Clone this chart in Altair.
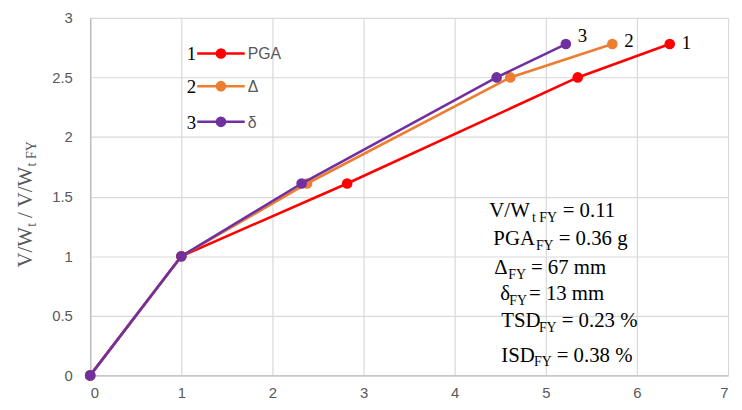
import altair as alt
import pandas as pd

# ---- data ----
series_ids = ["1", "2", "3"]
series_names = ["PGA", "Δ", "δ"]
series_colors = ["#FF0000", "#ED7D31", "#7030A0"]
y_vals = [0, 1, 1.61, 2.5, 2.78]
x_pga = [0, 1, 2.82, 5.35, 6.36]
x_delta = [0, 1, 2.38, 4.61, 5.73]
x_small = [0, 1, 2.32, 4.46, 5.22]
x_series = [x_pga, x_delta, x_small]
x_ticks = [0, 1, 2, 3, 4, 5, 6, 7]
y_ticks = [0, 0.5, 1, 1.5, 2, 2.5, 3]

W, H = 644, 361
SERIF = "Liberation Serif"
SANS = "Liberation Sans"
GRAY = "#595959"

xs = alt.Scale(domain=[0, 7], nice=False)
ys = alt.Scale(domain=[0, 3], nice=False)

layers = []
label_dy = [-1, -3, -8]
for i, sid in enumerate(series_ids):
    df = pd.DataFrame({"x": x_series[i], "y": y_vals, "s": sid, "o": range(len(y_vals))})
    base = alt.Chart(df)
    enc = dict(
        x=alt.X("x:Q", scale=xs, axis=alt.Axis(values=x_ticks, title=None, grid=True, format="d",
                                                 labelPadding=10, tickSize=0, ticks=False,
                                                 labelFont=SANS, labelFontSize=15, labelColor=GRAY)),
        y=alt.Y("y:Q", scale=ys, axis=alt.Axis(values=y_ticks, title=None, grid=True, format="~g",
                                                 labelPadding=18, tickSize=0, ticks=False,
                                                 labelFont=SANS, labelFontSize=15, labelColor=GRAY)),
    )
    line = base.mark_line(color=series_colors[i], strokeWidth=2.6).encode(order="o:Q", **enc)
    pts = base.mark_circle(color=series_colors[i], size=115, opacity=1).encode(**enc)
    end = base.transform_filter(alt.datum.o == len(y_vals) - 1).mark_text(
        font=SERIF, fontSize=19, color="black", align="left", baseline="middle",
        dx=12, dy=label_dy[i]).encode(x="x:Q", y="y:Q", text="s:N")
    layers += [line, pts, end]

# ---- custom legend (top-left inside plot) ----
leg = pd.DataFrame({"sid": series_ids, "name": series_names, "col": series_colors,
                    "ypx": [36, 69, 105]})
legb = alt.Chart(leg)
leg_line = legb.mark_rule(strokeWidth=2.6).encode(
    x=alt.value(108), x2=alt.value(156), y=alt.Y("ypx:Q", scale=None),
    color=alt.Color("col:N", scale=None))
leg_dot = legb.mark_circle(size=115, opacity=1).encode(
    x=alt.value(132), y=alt.Y("ypx:Q", scale=None), color=alt.Color("col:N", scale=None))
leg_num = legb.mark_text(font=SERIF, fontSize=19, color="black", align="right",
                         baseline="middle", dy=1).encode(
    x=alt.value(107), y=alt.Y("ypx:Q", scale=None), text="sid:N")
leg_txt = legb.mark_text(font=SANS, fontSize=16, color=GRAY, align="left",
                         baseline="middle", dy=1).encode(
    x=alt.value(159), y=alt.Y("ypx:Q", scale=None), text="name:N")
layers += [leg_line, leg_dot, leg_num, leg_txt]

# ---- annotation block (text with subscripts) ----
ann_main = pd.DataFrame({
    "t": ["V/W", "= 0.11", "PGA", "= 0.36 g", "Δ", "= 67 mm", "δ", "= 13 mm",
          "TSD", "= 0.23 %", "ISD", "= 0.38 %"],
    "px": [403, 477, 407, 473, 408, 445, 414, 443, 415, 476, 415, 471],
    "py": [201, 201, 229, 229, 259, 259, 285, 285, 312, 312, 347, 347],
})
ann_sub = pd.DataFrame({
    "t": ["t FY", "FY", "FY", "FY", "FY", "FY"],
    "px": [446, 450, 422, 423, 453, 448],
    "py": [206, 234, 264, 290, 317, 352],
})
layers.append(alt.Chart(ann_main).mark_text(font=SERIF, fontSize=21, color="black",
                                            align="left", baseline="alphabetic").encode(
    x=alt.X("px:Q", scale=None), y=alt.Y("py:Q", scale=None), text="t:N"))
layers.append(alt.Chart(ann_sub).mark_text(font=SERIF, fontSize=14, color="black",
                                           align="left", baseline="alphabetic").encode(
    x=alt.X("px:Q", scale=None), y=alt.Y("py:Q", scale=None), text="t:N"))

# ---- y-axis title with subscripts (rotated) ----
yt_main = pd.DataFrame({"t": ["V/W", "/ V/W"], "px": [-59, -59], "py": [252, 202]})
yt_sub = pd.DataFrame({"t": ["t", "t FY"], "px": [-55, -55], "py": [211, 150]})
layers.append(alt.Chart(yt_main).mark_text(font=SERIF, fontSize=21, color=GRAY, angle=270,
                                           align="left", baseline="alphabetic").encode(
    x=alt.X("px:Q", scale=None), y=alt.Y("py:Q", scale=None), text="t:N"))
layers.append(alt.Chart(yt_sub).mark_text(font=SERIF, fontSize=14, color=GRAY, angle=270,
                                          align="left", baseline="alphabetic").encode(
    x=alt.X("px:Q", scale=None), y=alt.Y("py:Q", scale=None), text="t:N"))

chart = alt.layer(*layers).properties(
    width=W, height=H,
    background="white",
    autosize=alt.AutoSizeParams(type="none"),
    padding={"left": 83, "top": 8, "right": 6, "bottom": 30},
).configure_view(stroke=None).configure_axis(
    gridColor="#D9D9D9", gridWidth=1.2, domainColor="#BFBFBF", domainWidth=1.5,
    labelFont=SANS, labelFontSize=15, labelColor=GRAY,
)

chart.save("out.html", embed_options={"renderer": "svg", "actions": False})
